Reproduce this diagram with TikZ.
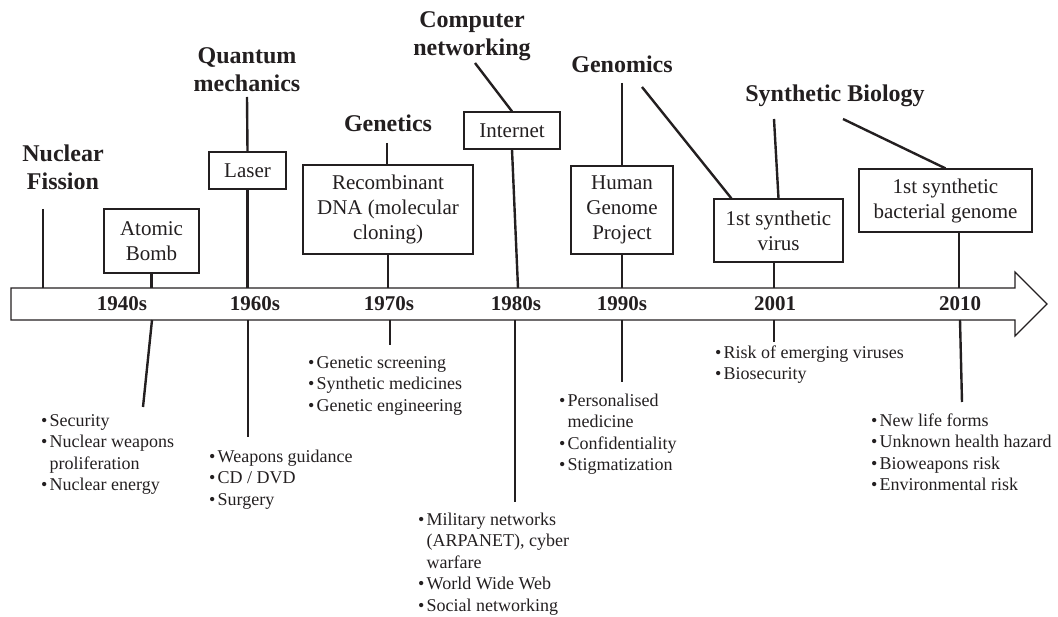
\documentclass[tikz,border=0pt]{standalone}
\usepackage{fontspec}
\setmainfont{Liberation Serif}
\definecolor{inkc}{HTML}{231F20}
\newcommand{\bul}{\makebox[8.5pt][l]{\textbullet}}
\newcommand{\ind}{\hspace*{8.5pt}}
\begin{document}
\begin{tikzpicture}[x=1pt,y=-1pt,
  ink/.style={draw=inkc, line width=1.2pt},
  conn/.style={draw=inkc, line width=2.4pt},
  evbox/.style={draw=inkc, line width=1.2pt, inner sep=0pt, align=center, font=\fontsize{21}{25}\selectfont, text=inkc},
  head/.style={font=\fontsize{24}{28}\selectfont\bfseries, align=center, inner sep=0pt, text=inkc, anchor=north},
  year/.style={font=\fontsize{21}{25}\selectfont\bfseries, inner sep=0pt, anchor=base, text=inkc},
  blist/.style={font=\fontsize{18}{21.5}\selectfont, align=left, inner sep=0pt, anchor=north west, text=inkc}]
\useasboundingbox (0,0) rectangle (1058,617);

% timeline arrow
\draw[ink, line join=miter] (11,288) -- (1015,288) -- (1015,272) -- (1047,304) -- (1015,336) -- (1015,320) -- (11,320) -- cycle;
\coordinate (axt) at (0,288);
\coordinate (axb) at (0,320);

% years
\node[year] (y40) at (122,311) {1940s};
\node[year] (y60) at (255,311) {1960s};
\node[year] (y70) at (389,311) {1970s};
\node[year] (y80) at (516,311) {1980s};
\node[year] (y90) at (622,311) {1990s};
\node[year] (y01) at (775,311) {2001};
\node[year] (y10) at (960,311) {2010};

% headings
\node[head] (nf) at (63,141.4) {\strut Nuclear\\Fission};
\node[head] (qm) at (247,43.4) {\strut Quantum\\mechanics};
\node[head] (cn) at (472,7.4) {\strut Computer\\networking};
\node[head] (gt) at (388,111.4) {\strut Genetics};
\node[head] (gm) at (622,52.4) {\strut Genomics};
\node[head] (sb) at (835,81.4) {\strut Synthetic Biology};

% event boxes
\node[evbox, minimum width=95pt, minimum height=64pt] (atomic) at (151.5,241) {Atomic\\Bomb};
\node[evbox, minimum width=77pt, minimum height=37pt] (laser) at (247.5,170.5) {Laser};
\node[evbox, minimum width=170pt, minimum height=89pt] (recomb) at (388,209.5) {Recombinant\\DNA (molecular\\cloning)};
\node[evbox, minimum width=96pt, minimum height=37pt] (internet) at (512,130.5) {Internet};
\node[evbox, minimum width=102pt, minimum height=88pt] (hgp) at (622,210) {Human\\Genome\\Project};
\node[evbox, minimum width=129pt, minimum height=63pt] (virus) at (778.5,230.5) {1st synthetic\\virus};
\node[evbox, minimum width=173pt, minimum height=63pt] (bact) at (945.5,200.5) {1st synthetic\\bacterial genome};

% connector ends near headings
\coordinate (nfl) at (43,209);
\coordinate (qml) at (247,97);
\coordinate (gtl) at (387,143);
\coordinate (cnl) at (475,63);
\coordinate (gml) at (622,83);
\coordinate (gmr) at (642,87);
\coordinate (sbl) at (774,119);
\coordinate (sbr) at (843,119);
\coordinate (netax) at (518,288);

% upper connectors
\draw[conn] (nfl) -- (nfl |- axt);
\draw[conn] (atomic.south) -- (atomic.south |- axt);
\draw[conn] (qml) -- (laser.north);
\draw[conn] (laser.south) -- (laser.south |- axt);
\draw[conn] (gtl) -- (gtl |- recomb.north);
\draw[conn] (recomb.south) -- (recomb.south |- axt);
\draw[conn] (cnl) -- (internet.north);
\draw[conn] (internet.south) -- (netax);
\draw[conn] (gml) -- (hgp.north);
\draw[conn] (hgp.south) -- (hgp.south |- axt);
\draw[conn] (gmr) -- ([xshift=18pt]virus.north west);
\draw[conn] (sbl) -- (virus.north);
\draw[conn] ([xshift=-4.5pt]virus.south) -- ([xshift=-4.5pt]virus.south |- axt);
\draw[conn] (sbr) -- (bact.north);
\draw[conn] ([xshift=13.5pt]bact.south) -- ([xshift=13.5pt]bact.south |- axt);

% lower connectors
\coordinate (d40a) at (152,320); \coordinate (d40b) at (143,407);
\coordinate (d60a) at (248,320); \coordinate (d60b) at (248,437);
\coordinate (d70a) at (390,320); \coordinate (d70b) at (390,345);
\coordinate (d80a) at (515,320); \coordinate (d80b) at (515,502);
\coordinate (d90a) at (622,320); \coordinate (d90b) at (622,382);
\coordinate (d01a) at (774,320); \coordinate (d01b) at (774,342);
\coordinate (d10a) at (960,320); \coordinate (d10b) at (962,402);
\draw[conn] (d40a) -- (d40b);
\draw[conn] (d60a) -- (d60b);
\draw[conn] (d70a) -- (d70b);
\draw[conn] (d80a) -- (d80b);
\draw[conn] (d90a) -- (d90b);
\draw[conn] (d01a) -- (d01b);
\draw[conn] (d10a) -- (d10b);

% consequence lists
\node[blist] (l40) at (41,411) {\strut\bul Security\\\bul Nuclear weapons\\\ind proliferation\\\bul Nuclear energy};
\node[blist] (l60) at (209,447) {\strut\bul Weapons guidance\\\bul CD / DVD\\\bul Surgery};
\node[blist] (l70) at (308,353) {\strut\bul Genetic screening\\\bul Synthetic medicines\\\bul Genetic engineering};
\node[blist] (l80) at (418,510) {\strut\bul Military networks\\\ind (ARPANET), cyber\\\ind warfare\\\bul World Wide Web\\\bul Social networking};
\node[blist] (l90) at (559,391) {\strut\bul Personalised\\\ind medicine\\\bul Confidentiality\\\bul Stigmatization};
\node[blist] (l01) at (715,343) {\strut\bul Risk of emerging viruses\\\bul Biosecurity};
\node[blist] (l10) at (871,411) {\strut\bul New life forms\\\bul Unknown health hazard\\\bul Bioweapons risk\\\bul Environmental risk};
\end{tikzpicture}
\end{document}
